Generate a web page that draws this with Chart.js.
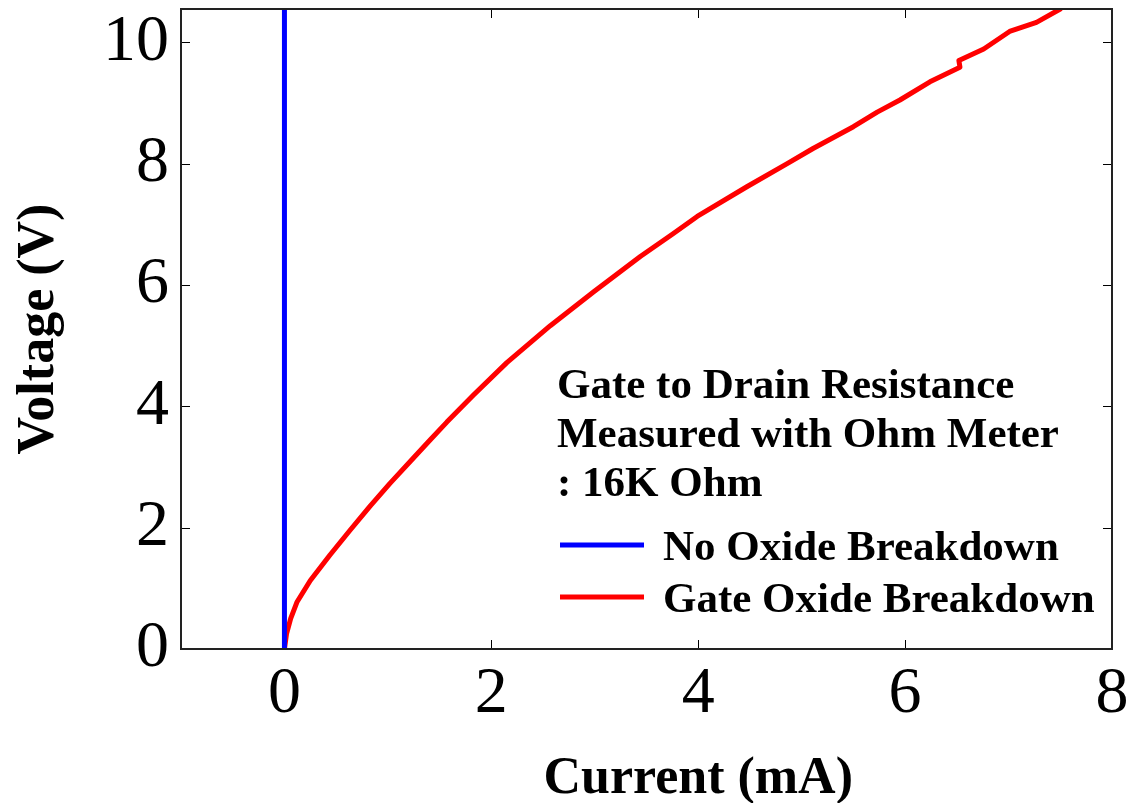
<!DOCTYPE html>
<html>
<head>
<meta charset="utf-8">
<script src="https://cdn.jsdelivr.net/npm/chart.js@4.4.1/dist/chart.umd.min.js"></script>
<style>
  html, body { margin: 0; padding: 0; background: #fff; }
  #wrap { width: 1128px; height: 803px; }
</style>
</head>
<body>
<div id="wrap"><canvas id="c" width="1128" height="803"></canvas></div>
<script>
// I-V sweep, gate to drain: intact device vs. device with gate oxide breakdown
const currentIntact = [0, 0];          // mA
const voltageIntact = [0, 11];         // V

const currentBroken = [0, 0.02, 0.06, 0.12, 0.25, 0.44, 0.64, 0.83, 1.02, 1.22, 1.41, 1.57,
  1.83, 2.15, 2.57, 2.99, 3.44, 3.76, 3.99, 4.47, 4.86, 5.11, 5.50, 5.73, 5.95, 6.24,
  6.53, 6.52, 6.76, 7.01, 7.27, 7.50];
const voltageBroken = [0, 0.25, 0.50, 0.77, 1.13, 1.55, 1.97, 2.36, 2.73, 3.10, 3.45, 3.74,
  4.19, 4.72, 5.33, 5.89, 6.47, 6.85, 7.13, 7.62, 8.00, 8.25, 8.61, 8.85, 9.05, 9.35,
  9.59, 9.70, 9.89, 10.18, 10.33, 10.55];

const xTickValues = [0, 2, 4, 6, 8];
const yTickValues = [0, 2, 4, 6, 8, 10];

const seriesNames = ['No Oxide Breakdown', 'Gate Oxide Breakdown'];
const seriesColors = ['#0000ff', '#ff0000'];
const noteLines = ['Gate to Drain Resistance', 'Measured with Ohm Meter', ': 16K Ohm'];
const xTitle = 'Current (mA)';
const yTitle = 'Voltage (V)';

const SERIF = "'Liberation Serif', 'Times New Roman', serif";

const toPoints = (xs, ys) => xs.map((x, i) => ({ x: x, y: ys[i] }));

// Keep the plot frame fixed: tick labels may overhang the canvas edges
const noLabelPadding = s => {
  s.paddingTop = 0; s.paddingBottom = 0; s.paddingLeft = 0; s.paddingRight = 0;
};

// Frame box plus inward-pointing tick marks on all four sides
const frameBox = {
  id: 'frameBox',
  beforeDatasetsDraw(chart) {
    const { ctx, chartArea: a, scales: { x, y } } = chart;
    ctx.save();
    ctx.strokeStyle = '#000';
    ctx.lineWidth = 1;
    ctx.beginPath();
    xTickValues.forEach(v => {
      const px = Math.round(x.getPixelForValue(v)) + 0.5;
      if (px <= a.left + 2 || px >= a.right - 2) return;
      ctx.moveTo(px, a.bottom); ctx.lineTo(px, a.bottom - 9);
      ctx.moveTo(px, a.top); ctx.lineTo(px, a.top + 9);
    });
    yTickValues.forEach(v => {
      const py = Math.round(y.getPixelForValue(v)) + 0.5;
      if (py <= a.top + 2 || py >= a.bottom - 2) return;
      ctx.moveTo(a.left, py); ctx.lineTo(a.left + 9, py);
      ctx.moveTo(a.right, py); ctx.lineTo(a.right - 9, py);
    });
    ctx.stroke();
    ctx.restore();
  },
  afterDatasetsDraw(chart) {
    const { ctx, chartArea: a } = chart;
    ctx.save();
    ctx.strokeStyle = '#222';
    ctx.lineWidth = 2;
    ctx.strokeRect(a.left, a.top, a.right - a.left, a.bottom - a.top);
    ctx.restore();
  }
};

// Horizontal axis title, centred on the labelled tick range
const xAxisTitle = {
  id: 'xAxisTitle',
  afterDraw(chart) {
    const { ctx, scales: { x } } = chart;
    const cx = (x.getPixelForValue(xTickValues[0]) + x.getPixelForValue(xTickValues[xTickValues.length - 1])) / 2;
    ctx.save();
    ctx.font = 'bold 52px ' + SERIF;
    ctx.fillStyle = '#000';
    ctx.textAlign = 'center';
    ctx.textBaseline = 'alphabetic';
    ctx.fillText(xTitle, cx, 793);
    ctx.restore();
  }
};

// Annotation block and line legend inside the plot
const noteLegend = {
  id: 'noteLegend',
  afterDraw(chart) {
    const { ctx } = chart;
    ctx.save();
    ctx.font = 'bold 43px ' + SERIF;
    ctx.fillStyle = '#000';
    ctx.textAlign = 'left';
    ctx.textBaseline = 'alphabetic';
    noteLines.forEach((t, i) => ctx.fillText(t, 557, 398 + i * 49));
    chart.data.datasets.forEach((ds, i) => {
      const yy = 545 + i * 52;
      ctx.strokeStyle = ds.borderColor;
      ctx.lineWidth = 5;
      ctx.beginPath();
      ctx.moveTo(560, yy); ctx.lineTo(644, yy);
      ctx.stroke();
      ctx.fillText(ds.label, 663, yy + 15);
    });
    ctx.restore();
  }
};

new Chart(document.getElementById('c'), {
  type: 'scatter',
  data: {
    datasets: [
      {
        label: seriesNames[0],
        data: toPoints(currentIntact, voltageIntact),
        showLine: true, borderColor: seriesColors[0], borderWidth: 5,
        pointRadius: 0, fill: false, clip: 0
      },
      {
        label: seriesNames[1],
        data: toPoints(currentBroken, voltageBroken),
        showLine: true, borderColor: seriesColors[1], borderWidth: 5,
        pointRadius: 0, fill: false, tension: 0, clip: 0,
        borderJoinStyle: 'round', borderCapStyle: 'round'
      }
    ]
  },
  options: {
    responsive: false,
    devicePixelRatio: 1,
    animation: false,
    events: [],
    layout: { padding: { top: 9, right: 16, left: 0, bottom: 0 } },
    plugins: {
      legend: { display: false },
      tooltip: { enabled: false },
      title: { display: false }
    },
    scales: {
      x: {
        type: 'linear',
        min: -1, max: 8,
        afterBuildTicks: s => { s.ticks = xTickValues.map(v => ({ value: v })); },
        afterFit: s => { s.height = 154; noLabelPadding(s); },
        grid: { display: false, drawTicks: false },
        border: { display: false },
        ticks: { color: '#000', padding: 6, maxRotation: 0, font: { family: SERIF, size: 66 } }
      },
      y: {
        type: 'linear',
        min: 0, max: 10.55,
        afterBuildTicks: s => { s.ticks = yTickValues.map(v => ({ value: v })); },
        afterFit: s => { s.width = 181; noLabelPadding(s); },
        grid: { display: false, drawTicks: false },
        border: { display: false },
        ticks: { color: '#000', padding: 12, font: { family: SERIF, size: 66 } },
        title: {
          display: true, text: yTitle, color: '#000',
          font: { family: SERIF, size: 52, weight: 'bold', lineHeight: 1 },
          padding: { top: 14, bottom: 0 }
        }
      }
    }
  },
  plugins: [frameBox, xAxisTitle, noteLegend]
});
</script>
</body>
</html>
